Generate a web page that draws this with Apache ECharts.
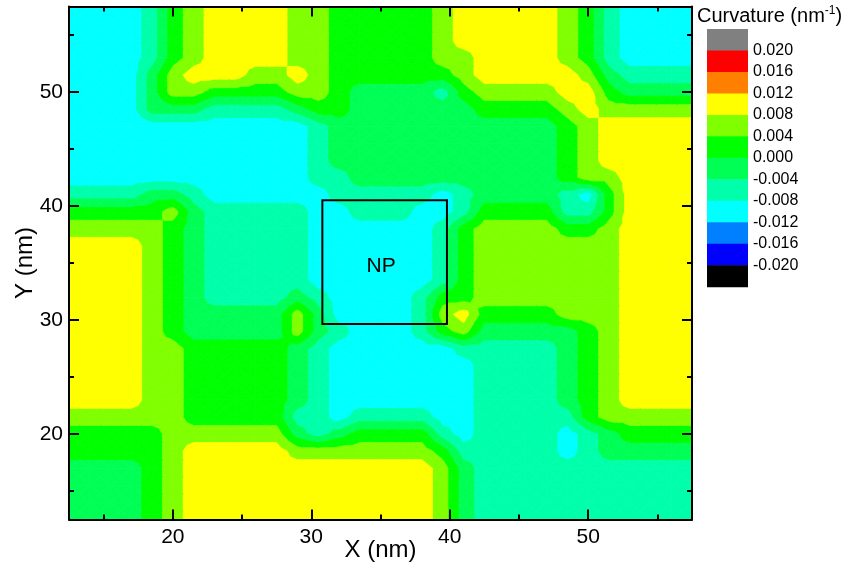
<!DOCTYPE html>
<html><head><meta charset="utf-8">
<script src="https://cdn.jsdelivr.net/npm/echarts@6/dist/echarts.min.js"></script>
<style>html,body{margin:0;padding:0;background:#fff}#c{width:846px;height:569px}</style>
</head><body><div id="c"></div>
<script>
// ---- data ----
const xNodes = [12.5,14,15.5,17,18.5,20,21.5,23,24.5,26,27.5,29,30.5,32,33.5,35,36.5,38,39.5,41,42.5,44,45.5,47,48.5,50,51.5,53,54.5,56,57.5];
const yNodes = [57.5,56,54.5,53,51.5,50,48.5,47,45.5,44,42.5,41,39.5,38,36.5,35,33.5,32,30.5,29,27.5,26,24.5,23,21.5,20,18.5,17,15.5,14,12.5];
// curvature code per node (nm^-1): C=-0.010 A=-0.006 S=-0.002 G=0.002 L=0.006 Y=0.010
const codeValues = {C:-0.010, A:-0.006, S:-0.002, G:0.002, L:0.006, Y:0.010};
const gridRows = [
"CCCCAGLYYYYLLGGGGGLYYYYYLGACCCC",
"CCCCAGLYYYYLLGGGGGLYYYYYLGACCCC",
"CCCCAGLYYYYLLGGGGGLYYYYYLGACCCC",
"CCCCAGLYYYYLLGGGGGLLYYYYLGACCCC",
"CCCCSLYYYLLYLGGGGGGLYYYYYLSAAAA",
"CCCCSLLGGGGLLGSSSSAGLLLLYYGSSSS",
"CCCCSSSAAAASGGSSSSSSGGGGLYLLLLL",
"CCCCCCCCCCCCASSSSSSSSSSSGLYYYYY",
"CCCCCCCCCCCCASSSSSSSSSSSGLYYYYY",
"CCCCCCCCCCCCASSSSSSSSSSSGLYYYYY",
"CCCCCCCCCCCCAASSSSSSSSSSGLLYYYY",
"AAAASSACCCCCCAAAAACASSSSACGYYYY",
"GGGGGLSAAAAACCAAACCAGGGGAAGYYYY",
"LLLLLGSAAAAACCCCCCAGLLLLGGLYYYY",
"YYYYLGSAAAAACCCCCCAGLLLLLLLYYYY",
"YYYYLGSAAAAACCCCCCAGLLLLLLLYYYY",
"YYYYLGSAAAAACCCCCCAGLLLLLLLYYYY",
"YYYYLGSAAAASACCCCAGGLLLLLLLYYYY",
"YYYYLGSSSSSLSCCCCALYGGGGLLLYYYY",
"YYYYLGSSSSSLSACCCAGLSSSSSGLYYYY",
"YYYYLLGGGGGSACCCCCCAAAAASGLYYYY",
"YYYYLLGGGGGSACCCCCCCAAAASGLYYYY",
"YYYYLLGGGGGSACCCCCCCAAAASGLYYYY",
"YYYYLLGGGGGSACCCCCCCAAAASGLYYYY",
"LLLLLLGGGGGAACAAAACCAAAAAGLLLLL",
"GGGGGLLLLLLSASGGGGACAAAACASGGGG",
"GGGGGLYYYYYLLLLLLLGAAAAACASSSSS",
"SSSSGLYYYYYYYYYYYYLSAAAAAAAAAAA",
"SSSSGLYYYYYYYYYYYYLSAAAAAAAAAAA",
"SSSSGLYYYYYYYYYYYYLSAAAAAAAAAAA",
"SSSSGLYYYYYYYYYYYYLSAAAAAAAAAAA"
];
const levels = [-0.020,-0.016,-0.012,-0.008,-0.004,0.000,0.004,0.008,0.012,0.016,0.020];
const bandColors = ['#000000','#0000FF','#0080FF','#00FFFF','#00FFAA','#00FF55','#00FF00','#80FF00','#FFFF00','#FF8000','#FF0000','#808080'];
const legendLabels = ['0.020','0.016','0.012','0.008','0.004','0.000','-0.004','-0.008','-0.012','-0.016','-0.020'];
const xMajor = [20,30,40,50], xMinor = [15,25,35,45,55];
const yMajor = [20,30,40,50], yMinor = [15,25,35,45,55];
const npBox = [30.8, 29.65, 39.8, 40.5];
const npText = ['NP', 35.05, 34.7];

// ---- contour bands (marching triangles) ----
function nodeVal(r, c){ const s = gridRows[r]; const ch = s[Math.min(c, s.length-1)]; return codeValues[ch]; }
function clip(poly, t, above){
  const out = [];
  for (let i=0;i<poly.length;i++){
    const a = poly[i], b = poly[(i+1)%poly.length];
    const ia = above ? a.v >= t : a.v <= t;
    const ib = above ? b.v >= t : b.v <= t;
    if (ia) out.push(a);
    if (ia !== ib){ const f=(t-a.v)/(b.v-a.v); out.push({x:a.x+f*(b.x-a.x), y:a.y+f*(b.y-a.y), v:t}); }
  }
  return out;
}
const polys = [];
for (let r=0;r<yNodes.length-1;r++){
  for (let c=0;c<xNodes.length-1;c++){
    const tl={x:xNodes[c],y:yNodes[r],v:nodeVal(r,c)}, tr={x:xNodes[c+1],y:yNodes[r],v:nodeVal(r,c+1)};
    const bl={x:xNodes[c],y:yNodes[r+1],v:nodeVal(r+1,c)}, br={x:xNodes[c+1],y:yNodes[r+1],v:nodeVal(r+1,c+1)};
    const ce={x:(tl.x+tr.x)/2,y:(tl.y+bl.y)/2,v:(tl.v+tr.v+bl.v+br.v)/4};
    const tris=[[tl,tr,ce],[tr,br,ce],[br,bl,ce],[bl,tl,ce]];
    for (const tri of tris){
      const vmin=Math.min(tri[0].v,tri[1].v,tri[2].v), vmax=Math.max(tri[0].v,tri[1].v,tri[2].v);
      for (let b=0;b<bandColors.length;b++){
        const lo = b===0 ? -Infinity : levels[b-1];
        const hi = b===bandColors.length-1 ? Infinity : levels[b];
        if (vmax < lo || vmin > hi) continue;
        let p = tri;
        if (lo > -Infinity) p = clip(p, lo, true);
        if (p.length < 3) continue;
        if (hi < Infinity) p = clip(p, hi, false);
        if (p.length < 3) continue;
        let cx=0, cy=0; p.forEach(q=>{cx+=q.x; cy+=q.y;});
        polys.push({pts:p.map(q=>[q.x,q.y]), band:b, cx:cx/p.length, cy:cy/p.length});
      }
    }
  }
}

const FONT = 'Liberation Sans, Arial, sans-serif';
const chart = echarts.init(document.getElementById('c'), null, {renderer:'canvas'});
function mkX(pos, vals, len, showLine, showLabel, extra){
  return Object.assign({
    type:'value', min:12.5, max:57.5, position:pos, z:10,
    axisLine:{show:showLine, onZero:false, lineStyle:{color:'#000', width:2}},
    axisTick:{show:true, inside:true, length:len, customValues:vals, lineStyle:{color:'#000', width:2}},
    axisLabel:{show:showLabel, customValues:vals, color:'#000', fontSize:21, fontFamily:FONT, margin:(pos==='bottom'?7:6)},
    splitLine:{show:false}
  }, extra||{});
}
const option = {
  animation:false,
  grid:{left:69, right:154, top:6.5, bottom:49.5, containLabel:false, outerBoundsMode:'none'},
  xAxis:[
    mkX('bottom', xMajor, 10, true, true, {name:'X (nm)', nameLocation:'middle', nameGap:19, nameMoveOverlap:false, nameTextStyle:{color:'#000', fontSize:24, fontFamily:FONT}}),
    mkX('bottom', xMinor, 5, false, false),
    mkX('top', xMajor, 10, true, false),
    mkX('top', xMinor, 5, false, false)
  ],
  yAxis:[
    mkX('left', yMajor, 10, true, true, {name:'Y (nm)', nameLocation:'middle', nameGap:32, nameMoveOverlap:false, nameTextStyle:{color:'#000', fontSize:24, fontFamily:FONT}}),
    mkX('left', yMinor, 5, false, false),
    mkX('right', yMajor, 10, true, false),
    mkX('right', yMinor, 5, false, false)
  ],
  series:[
    {
      type:'custom', coordinateSystem:'cartesian2d', xAxisIndex:0, yAxisIndex:0, clip:true, silent:true, z:1,
      progressive:0,
      data: polys.map(p=>[p.cx, p.cy]),
      encode:{x:0, y:1},
      renderItem:(params, api)=>{
        const p = polys[params.dataIndex];
        const col = bandColors[p.band];
        return {type:'polygon', shape:{points:p.pts.map(q=>api.coord(q))}, style:{fill:col, stroke:col, lineWidth:0.8}};
      }
    },
    {
      type:'custom', coordinateSystem:'cartesian2d', xAxisIndex:0, yAxisIndex:0, silent:true, z:5,
      data:[[npBox[0], npBox[1]]],
      renderItem:(params, api)=>{
        const a = api.coord([npBox[0], npBox[3]]), b = api.coord([npBox[2], npBox[1]]);
        const t = api.coord([npText[1], npText[2]]);
        return {type:'group', children:[
          {type:'rect', shape:{x:a[0], y:a[1], width:b[0]-a[0], height:b[1]-a[1]}, style:{fill:'none', stroke:'#000', lineWidth:2}},
          {type:'text', x:t[0], y:t[1], style:{text:npText[0], fill:'#000', fontSize:21, fontFamily:FONT, align:'center', verticalAlign:'middle'}}
        ]};
      }
    }
  ],
  graphic: (function(){
    const els = [];
    const bx=707, by=29, bw=41, bh=21.47;
    const order = bandColors.slice().reverse();
    order.forEach((c,k)=>{ els.push({type:'rect', shape:{x:bx, y:by+bh*k, width:bw, height:bh+0.5}, style:{fill:c}}); });
    legendLabels.forEach((t,k)=>{ els.push({type:'text', x:753, y:by+bh*(k+1), style:{text:t, fill:'#000', fontSize:16, fontFamily:FONT, verticalAlign:'middle'}}); });
    els.push({type:'text', x:697, y:16, style:{text:'Curvature (nm{sup|-1})', fill:'#000', fontSize:20, fontFamily:FONT, verticalAlign:'middle',
      rich:{sup:{fontSize:12, fontFamily:FONT, fill:'#000', verticalAlign:'top', padding:[0,0,10,0]}}}});
    return els;
  })()
};
chart.setOption(option);
</script>
</body></html>
